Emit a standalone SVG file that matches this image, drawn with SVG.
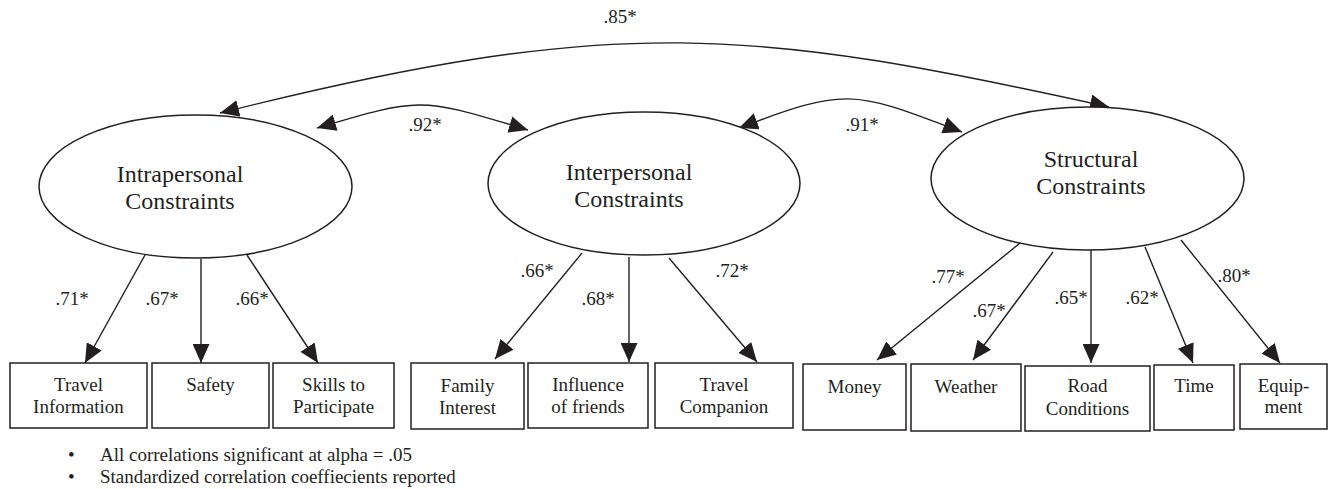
<svg xmlns="http://www.w3.org/2000/svg" width="1330" height="489" viewBox="0 0 1330 489">
<defs>
<style>
.bg{fill:#ffffff}
.node ellipse,.node rect{fill:#ffffff;stroke:#231f20;stroke-width:1.5}
.lbl{font-family:"Liberation Serif","Times New Roman",serif;fill:#231f20;text-anchor:middle}
.big{font-size:24px}
.box{font-size:19px}
.coef{font-size:19px}
.note{font-family:"Liberation Serif","Times New Roman",serif;fill:#231f20;font-size:19px}
#connectors path,#connectors line{fill:none;stroke:#231f20;stroke-width:1.4;marker-end:url(#ah)}
#connectors .bi{marker-start:url(#ah)}
</style>
<marker id="ah" markerUnits="userSpaceOnUse" markerWidth="19" markerHeight="17" viewBox="0 0 19 17" refX="19" refY="8.5" orient="auto-start-reverse">
<path d="M0,0 L19,8.5 L0,17 z" fill="#231f20"/>
</marker>
</defs>
<rect class="bg" x="0" y="0" width="1330" height="489"/>

<g id="connectors">
<path class="bi" d="M220,113 C619,13 751,28 1109,107"/>
<path class="bi" d="M317,128 C424,96 421,98 528,130"/>
<path class="bi" d="M739,128 C848,86.6 853,90.6 962,132"/>
<line x1="145" y1="255" x2="85" y2="363"/>
<line x1="201" y1="259" x2="201" y2="363"/>
<line x1="247" y1="255" x2="318" y2="363"/>
<line x1="582" y1="253" x2="495" y2="359"/>
<line x1="629" y1="257" x2="629" y2="362"/>
<line x1="669" y1="258" x2="757" y2="362"/>
<line x1="1020" y1="243" x2="877" y2="360"/>
<line x1="1053" y1="252" x2="973" y2="360"/>
<line x1="1091" y1="250" x2="1091" y2="363"/>
<line x1="1145" y1="247" x2="1193" y2="363"/>
<line x1="1181" y1="240" x2="1280" y2="363"/>
<g id="coefficients">
<text class="lbl coef" x="620" y="23">.85*</text>
<text class="lbl coef" x="425" y="131">.92*</text>
<text class="lbl coef" x="862" y="131">.91*</text>
<text class="lbl coef" x="72" y="305">.71*</text>
<text class="lbl coef" x="162" y="305">.67*</text>
<text class="lbl coef" x="252" y="305">.66*</text>
<text class="lbl coef" x="537" y="277">.66*</text>
<text class="lbl coef" x="598" y="305">.68*</text>
<text class="lbl coef" x="732" y="277">.72*</text>
<text class="lbl coef" x="948" y="283">.77*</text>
<text class="lbl coef" x="989" y="317">.67*</text>
<text class="lbl coef" x="1071" y="304">.65*</text>
<text class="lbl coef" x="1142" y="304">.62*</text>
<text class="lbl coef" x="1234" y="282">.80*</text>
</g>
</g>

<g id="intrapersonal" class="node">
<ellipse cx="195.5" cy="186.5" rx="156.5" ry="71.5"/>
<text class="lbl big" x="180" y="181.5">Intrapersonal</text>
<text class="lbl big" x="180" y="208.5">Constraints</text>
</g>
<g id="interpersonal" class="node">
<ellipse cx="644" cy="183.5" rx="156" ry="71.5"/>
<text class="lbl big" x="629" y="179.5">Interpersonal</text>
<text class="lbl big" x="629" y="206.5">Constraints</text>
</g>
<g id="structural" class="node">
<ellipse cx="1087.5" cy="178.5" rx="156.5" ry="71.5"/>
<text class="lbl big" x="1091" y="166.5">Structural</text>
<text class="lbl big" x="1091" y="194">Constraints</text>
</g>

<g id="travel-information" class="node">
<rect x="10" y="363" width="137" height="65"/>
<text class="lbl box" x="78.5" y="391">Travel</text>
<text class="lbl box" x="78.5" y="413">Information</text>
</g>
<g id="safety" class="node">
<rect x="152" y="363" width="117" height="65"/>
<text class="lbl box" x="210.5" y="391">Safety</text>
</g>
<g id="skills" class="node">
<rect x="273" y="363" width="121" height="65"/>
<text class="lbl box" x="333.5" y="391">Skills to</text>
<text class="lbl box" x="333.5" y="413">Participate</text>
</g>
<g id="family-interest" class="node">
<rect x="411" y="363" width="113" height="66"/>
<text class="lbl box" x="467.5" y="392">Family</text>
<text class="lbl box" x="467.5" y="414">Interest</text>
</g>
<g id="influence-friends" class="node">
<rect x="528" y="363" width="120" height="65"/>
<text class="lbl box" x="588" y="391">Influence</text>
<text class="lbl box" x="588" y="413">of friends</text>
</g>
<g id="travel-companion" class="node">
<rect x="655" y="363" width="138" height="65"/>
<text class="lbl box" x="724" y="391">Travel</text>
<text class="lbl box" x="724" y="413">Companion</text>
</g>
<g id="money" class="node">
<rect x="803" y="364" width="103" height="66"/>
<text class="lbl box" x="854.5" y="393">Money</text>
</g>
<g id="weather" class="node">
<rect x="911" y="364" width="110" height="67"/>
<text class="lbl box" x="966" y="393">Weather</text>
</g>
<g id="road-conditions" class="node">
<rect x="1025" y="366" width="125" height="65"/>
<text class="lbl box" x="1087.5" y="392">Road</text>
<text class="lbl box" x="1087.5" y="415">Conditions</text>
</g>
<g id="time" class="node">
<rect x="1154" y="365" width="80" height="65"/>
<text class="lbl box" x="1194" y="392">Time</text>
</g>
<g id="equipment" class="node">
<rect x="1240" y="364" width="87" height="65"/>
<text class="lbl box" x="1283.5" y="392">Equip-</text>
<text class="lbl box" x="1283.5" y="413">ment</text>
</g>

<g id="notes">
<text class="note" x="68" y="461">•</text>
<text class="note" x="100" y="461">All correlations significant at alpha = .05</text>
<text class="note" x="68" y="483">•</text>
<text class="note" x="100" y="483">Standardized correlation coeffiecients reported</text>
</g>
</svg>
